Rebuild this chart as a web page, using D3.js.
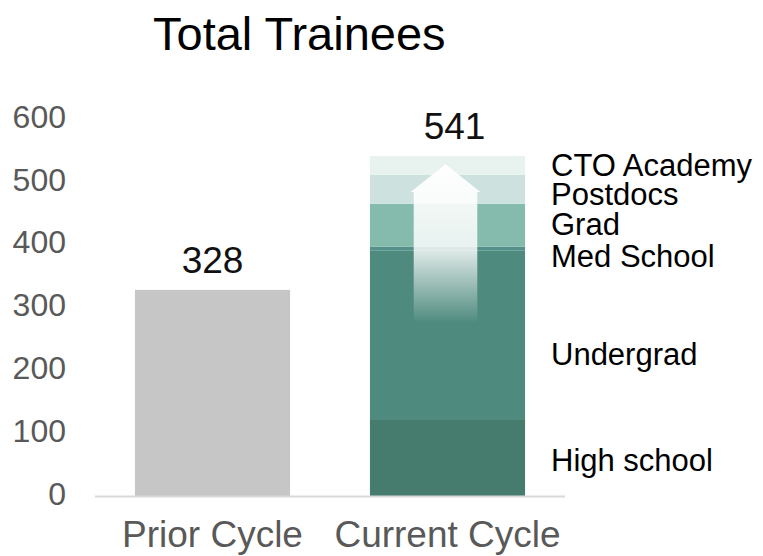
<!DOCTYPE html>
<html><head><meta charset="utf-8">
<script src="https://cdn.jsdelivr.net/npm/d3@7"></script>
<style>body{margin:0;background:#fff}svg{display:block;font-family:"Liberation Sans",Arial,sans-serif}</style>
</head><body><svg id="c" width="763" height="556"></svg>
<script>
const categories = ["Prior Cycle", "Current Cycle"];
const priorTotal = [328];
const segments = ["High school", "Undergrad", "Med School", "Grad", "Postdocs", "CTO Academy"];
const segmentValues = [121, 270, 6, 68, 46, 30];
const segmentColors = ["#467c6e", "#4e8a7e", "#54918a", "#85bbad", "#cde2de", "#e8f2ef"];
const yTicks = [0, 100, 200, 300, 400, 500, 600];
const labelY = [471, 365, 267, 235, 205, 176];

const svg = d3.select("#c");
const x = d3.scaleBand().domain(categories).range([95, 565]).paddingInner(0.34).paddingOuter(0.17);
const y = d3.scaleLinear().domain([0, 600]).range([496, 119]);

svg.append("text").attr("x", 153).attr("y", 50).attr("font-size", 47).attr("fill", "#000").text("Total Trainees");

// y axis labels
const ya = svg.append("g").attr("transform", "translate(66,-2)")
  .call(d3.axisLeft(y).tickValues(yTicks).tickSize(0).tickPadding(0));
ya.select(".domain").remove();
ya.selectAll("text").attr("font-size", 32).attr("fill", "#595959").attr("font-family", "Liberation Sans, Arial, sans-serif");

// prior bar
svg.append("rect").attr("x", x(categories[0])).attr("width", x.bandwidth())
  .attr("y", y(priorTotal[0])).attr("height", y(0) - y(priorTotal[0])).attr("fill", "#c6c6c6");
svg.append("text").attr("x", x(categories[0]) + x.bandwidth() / 2).attr("y", y(priorTotal[0]) - 17)
  .attr("text-anchor", "middle").attr("font-size", 37).attr("fill", "#111").text(priorTotal[0]);

// stacked current bar
let cum = 0;
const stack = segmentValues.map((v, i) => { const s = { i, y0: cum, y1: cum + v }; cum += v; return s; });
const total = cum;
svg.selectAll(".seg").data(stack).join("rect").attr("class", "seg")
  .attr("x", x(categories[1])).attr("width", x.bandwidth())
  .attr("y", d => y(d.y1)).attr("height", d => y(d.y0) - y(d.y1))
  .attr("fill", d => segmentColors[d.i]);
svg.append("text").attr("x", x(categories[1]) + x.bandwidth() / 2 + 7).attr("y", y(total) - 17)
  .attr("text-anchor", "middle").attr("font-size", 37).attr("fill", "#111").text(total);

// arrow
const defs = svg.append("defs");
const g = defs.append("linearGradient").attr("id", "ag").attr("x1", 0).attr("y1", 0).attr("x2", 0).attr("y2", 1);
g.append("stop").attr("offset", "0%").attr("stop-color", "#ffffff").attr("stop-opacity", 0.97);
g.append("stop").attr("offset", "55%").attr("stop-color", "#ffffff").attr("stop-opacity", 0.8);
g.append("stop").attr("offset", "100%").attr("stop-color", "#ffffff").attr("stop-opacity", 0);
const cx = x(categories[1]) + x.bandwidth() / 2 - 2;
const bw = x.bandwidth();
const sh = bw * 0.205, hh = bw * 0.225;
const yTip = y(528), yHead = y(484), yBot = y(275);
const pts = [[cx, yTip], [cx + hh, yHead], [cx + sh, yHead], [cx + sh, yBot], [cx - sh, yBot], [cx - sh, yHead], [cx - hh, yHead]];
svg.append("path").attr("d", d3.line()(pts) + "Z").attr("fill", "url(#ag)");

// baseline
svg.append("line").attr("x1", 95).attr("x2", 565).attr("y1", y(0) + 0.5).attr("y2", y(0) + 0.5)
  .attr("stroke", "#d9d9d9").attr("stroke-width", 2);

// category labels
svg.selectAll(".cat").data(categories).join("text").attr("class", "cat")
  .attr("x", d => x(d) + x.bandwidth() / 2).attr("y", 547).attr("text-anchor", "middle")
  .attr("font-size", 37).attr("fill", "#595959").text(d => d);

// segment labels
svg.selectAll(".lab").data(segments).join("text").attr("class", "lab")
  .attr("x", 551).attr("y", (d, i) => labelY[i]).attr("font-size", 31).attr("fill", "#000").text(d => d);
</script></body></html>
